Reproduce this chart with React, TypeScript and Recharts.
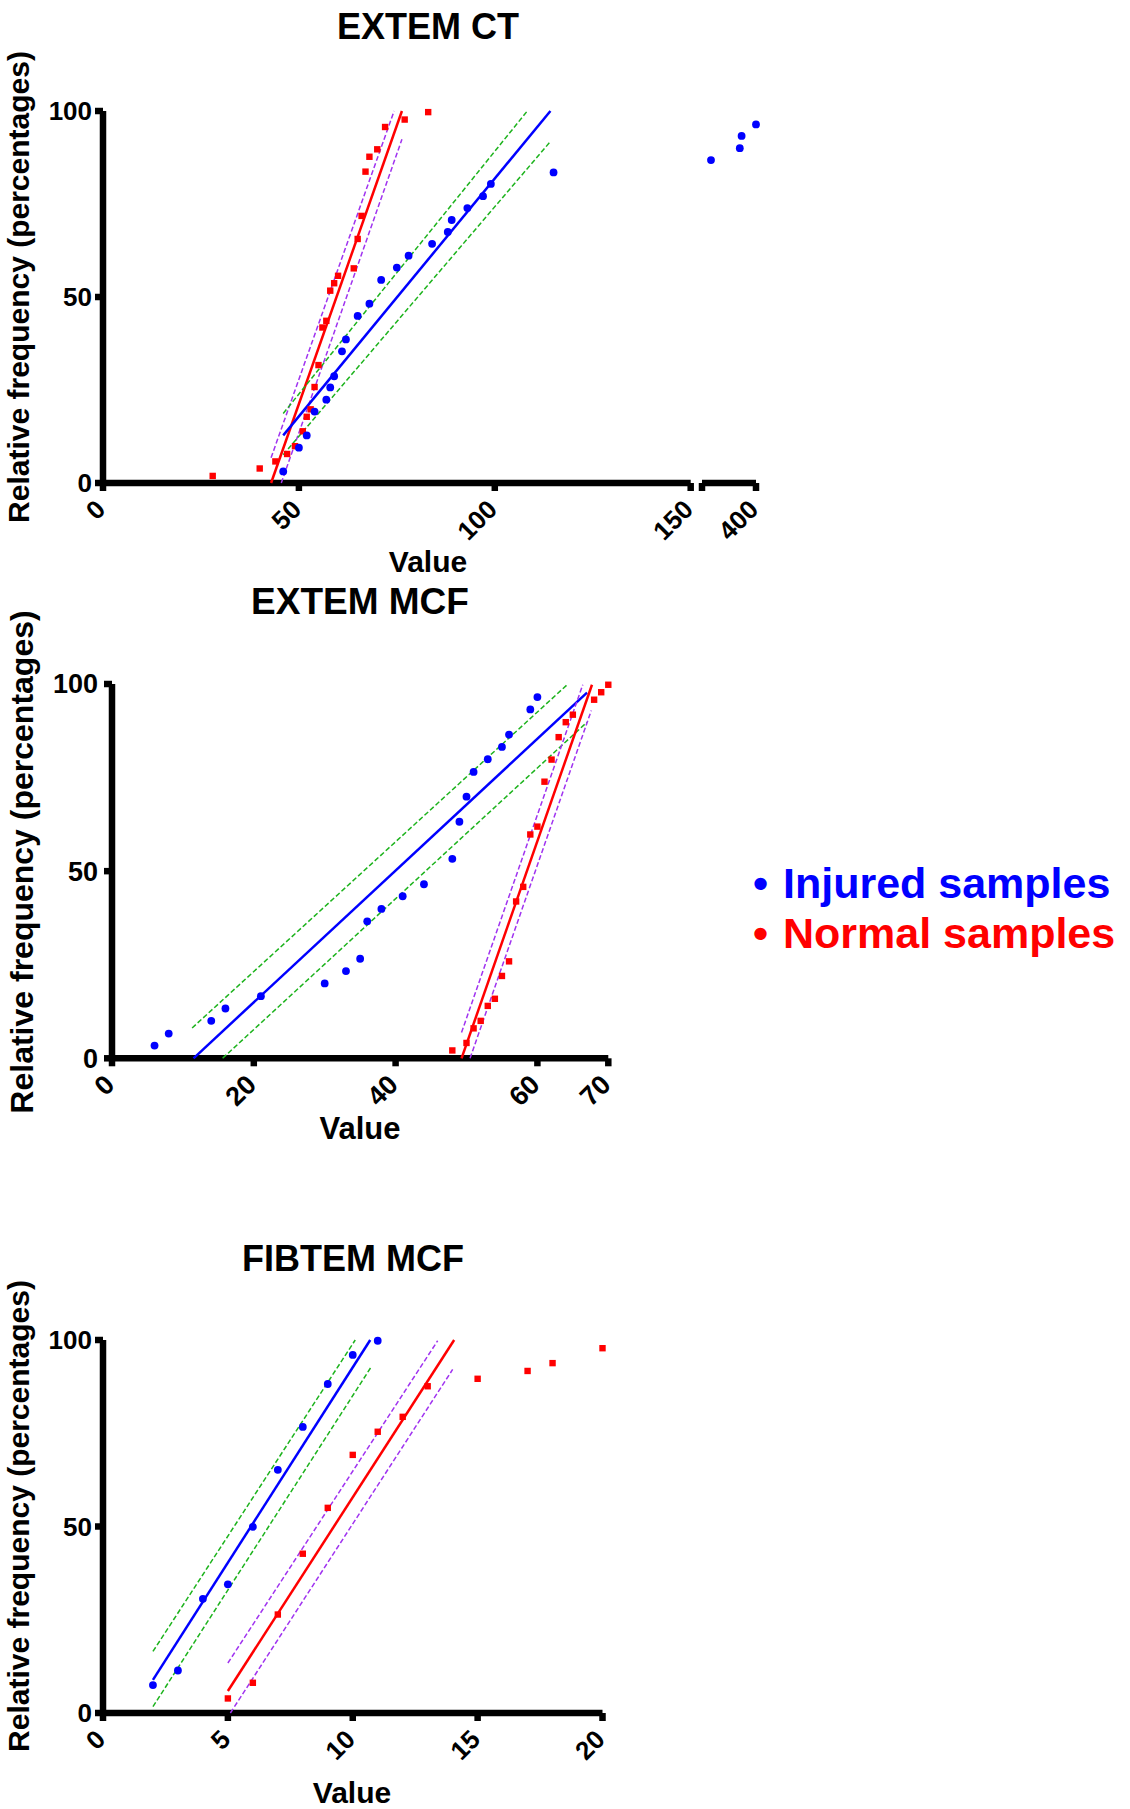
import React from 'react'
import { ScatterChart, Scatter, XAxis, YAxis } from 'recharts'

const FONT = '"Liberation Sans", Arial, Helvetica, sans-serif'
const BLUE = '#0000ff'
const RED = '#ff0000'
const GREEN = '#1db31d'
const PURPLE = '#a033f0'

// EXTEM CT
const ctInjuredX = [46, 50, 52, 54, 57, 58, 59, 61, 62, 65, 68, 71, 75, 78, 84, 88, 89, 93, 97, 99, 115]
const ctInjuredY = [3.1, 9.5, 12.8, 19.2, 22.4, 25.7, 28.7, 35.4, 38.6, 44.9, 48.2, 54.6, 57.9, 61.1, 64.3, 67.5, 70.7, 73.9, 77.1, 80.4, 83.5]
// points right of the axis break
const ctInjuredHighX = [375, 391, 392, 400]
const ctInjuredHighY = [86.8, 90.0, 93.3, 96.4]
const ctNormalX = [28, 40, 44, 47, 49, 51, 52, 53, 54, 55, 56, 57, 58, 59, 60, 64, 65, 66, 67, 68, 70, 72, 77, 83]
const ctNormalY = [1.9, 3.9, 5.8, 7.8, 9.9, 13.9, 17.8, 19.8, 25.8, 31.7, 41.8, 43.6, 51.7, 53.7, 55.7, 57.7, 65.6, 71.8, 83.7, 87.7, 89.7, 95.7, 97.7, 99.7]
const ctInjuredFit = [[46, 12.8], [114.2, 100]]
const ctInjuredBandHi = [[46, 18.7], [108.3, 100]]
const ctInjuredBandLo = [[46, 7.6], [114.2, 91.8]]
const ctNormalFit = [[42.9, 0], [76.3, 100]]
const ctNormalBandHi = [[42.9, 6.8], [74.3, 100]]
const ctNormalBandLo = [[45.5, 0], [76.3, 92.4]]

// EXTEM MCF
const mcfInjuredX = [6, 8, 14, 16, 21, 30, 33, 35, 36, 38, 41, 44, 48, 49, 50, 51, 53, 55, 56, 59, 60]
const mcfInjuredY = [3.4, 6.6, 10.0, 13.3, 16.6, 20.0, 23.3, 26.6, 36.6, 39.9, 43.3, 46.5, 53.3, 63.2, 69.9, 76.5, 79.9, 83.2, 86.5, 93.2, 96.5]
const mcfNormalX = [48, 50, 51, 52, 53, 54, 55, 56, 57, 58, 59, 60, 61, 62, 63, 64, 65, 68, 69, 70]
const mcfNormalY = [2.1, 4.1, 8.0, 10.0, 14.0, 15.9, 22.0, 25.9, 41.9, 45.8, 59.8, 61.9, 73.9, 79.8, 85.8, 89.8, 91.8, 95.8, 97.8, 99.8]
const mcfInjuredFit = [[11.5, 0], [67.0, 97.7]]
const mcfInjuredBandHi = [[11.3, 8.1], [64.2, 99.8]]
const mcfInjuredBandLo = [[15.6, 0], [67.0, 89.8]]
const mcfNormalFit = [[49.3, 0], [67.7, 99.8]]
const mcfNormalBandHi = [[49.3, 6.9], [66.4, 99.8]]
const mcfNormalBandLo = [[50.5, 0], [67.6, 92.9]]

// FIBTEM MCF
const fibInjuredX = [2, 3, 4, 5, 6, 7, 8, 9, 10, 11]
const fibInjuredY = [7.5, 11.4, 30.6, 34.5, 49.9, 65.2, 76.7, 88.2, 96.0, 99.8]
const fibNormalX = [5, 6, 7, 8, 9, 10, 11, 12, 13, 15, 17, 18, 20]
const fibNormalY = [3.9, 8.1, 26.4, 42.7, 55.0, 69.2, 75.4, 79.4, 87.6, 89.6, 91.7, 93.8, 97.8]
const fibInjuredFit = [[2, 8.9], [10.7, 100]]
const fibInjuredBandHi = [[2, 16.5], [10.1, 100]]
const fibInjuredBandLo = [[2, 1.7], [10.74, 92.8]]
const fibNormalFit = [[5, 5.9], [14.06, 100]]
const fibNormalBandHi = [[5, 13.4], [13.4, 99.8]]
const fibNormalBandLo = [[5.1, 0], [14.0, 92.1]]

const yTicks = [0, 50, 100]
const legendLabels = ['Injured samples', 'Normal samples']
const legendColors = [BLUE, RED]

const pts = (xs: number[], ys: number[]) => xs.map((x, i) => ({ x, y: ys[i] }))
const seg = (p: number[][]) => p.map(([x, y]) => ({ x, y }))

const axisStyle = { stroke: '#000', strokeWidth: 6.5 }

const BlueDot = (p: any) => <circle cx={p.cx} cy={p.cy} r={3.9} fill={BLUE} />
const RedSquare = (p: any) => <rect x={p.cx - 3.2} y={p.cy - 3.2} width={6.4} height={6.4} fill={RED} />
const NoDot = () => <g />

const xTick = (fs: number, only?: number[]) => (props: any) => {
  const { x, y, payload } = props
  if (only && !only.includes(payload.value)) return <g />
  return (
    <text
      transform={`translate(${x + 4},${y + 18}) rotate(-45)`}
      textAnchor="end"
      fontSize={fs}
      fontWeight={700}
      fontFamily={FONT}
      fill="#000"
    >
      {payload.value}
    </text>
  )
}

const yTick = (fs: number) => (props: any) => {
  const { x, y, payload } = props
  return (
    <text x={x} y={y} dy="0.35em" textAnchor="end" fontSize={fs} fontWeight={700} fontFamily={FONT} fill="#000">
      {payload.value}
    </text>
  )
}

function FitLines({ fit, hi, lo, color, band }: { fit: number[][]; hi: number[][]; lo: number[][]; color: string; band: string }) {
  return (
    <>
      <Scatter data={seg(hi)} fill={band} line={{ strokeWidth: 1.5, strokeDasharray: '5 2.5' }} shape={NoDot} isAnimationActive={false} legendType="none" />
      <Scatter data={seg(lo)} fill={band} line={{ strokeWidth: 1.5, strokeDasharray: '5 2.5' }} shape={NoDot} isAnimationActive={false} legendType="none" />
      <Scatter data={seg(fit)} fill={color} line={{ strokeWidth: 2.5 }} shape={NoDot} isAnimationActive={false} legendType="none" />
    </>
  )
}

interface PanelProps {
  plotLeft: number
  plotRight: number
  plotTop: number
  plotBottom: number
  xDomain: [number, number]
  xTicks: number[]
  xLabels?: number[]
  hideY?: boolean
  fs: number
  yMargin?: number
  children: React.ReactNode
}

function Panel(p: PanelProps) {
  const top = p.plotTop - 100
  const height = p.plotBottom - p.plotTop + 200
  const left = p.hideY ? p.plotLeft - 5 : 0
  const width = p.plotRight + 10 - left
  return (
    <div style={{ position: 'absolute', left, top }}>
      <ScatterChart width={width} height={height} margin={{ top: 100, right: 10, bottom: 0, left: p.hideY ? 5 : 0 }}>
        <XAxis
          type="number"
          dataKey="x"
          domain={p.xDomain}
          ticks={p.xTicks}
          interval={0}
          height={100}
          axisLine={axisStyle}
          tickLine={axisStyle}
          tickSize={8}
          tick={xTick(p.fs, p.xLabels)}
        />
        <YAxis
          type="number"
          dataKey="y"
          domain={[0, 100]}
          ticks={yTicks}
          interval={0}
          width={p.plotLeft}
          hide={p.hideY}
          axisLine={axisStyle}
          tickLine={axisStyle}
          tickSize={8}
          tickMargin={p.yMargin ?? 3}
          tick={yTick(p.fs)}
        />
        {p.children}
      </ScatterChart>
    </div>
  )
}

function Text({ x, y, size, rotate = 0, children }: { x: number; y: number; size: number; rotate?: number; children: React.ReactNode }) {
  return (
    <div
      style={{
        position: 'absolute',
        left: x,
        top: y,
        transform: `translate(-50%,-50%) rotate(${rotate}deg)`,
        fontFamily: FONT,
        fontWeight: 700,
        fontSize: size,
        lineHeight: 1,
        whiteSpace: 'nowrap',
        color: '#000',
      }}
    >
      {children}
    </div>
  )
}

const yLabel = 'Relative frequency (percentages)'

export default function App() {
  return (
    <div style={{ position: 'absolute', left: 0, top: 0, width: 1130, height: 1809, background: '#fff', overflow: 'hidden' }}>
      {/* EXTEM CT, left of the break */}
      <Panel plotLeft={103} plotRight={690.7} plotTop={110.5} plotBottom={482.5} xDomain={[0, 150]} xTicks={[0, 50, 100, 150]} fs={26}>
        <FitLines fit={ctNormalFit} hi={ctNormalBandHi} lo={ctNormalBandLo} color={RED} band={PURPLE} />
        <FitLines fit={ctInjuredFit} hi={ctInjuredBandHi} lo={ctInjuredBandLo} color={BLUE} band={GREEN} />
        <Scatter data={pts(ctNormalX, ctNormalY)} shape={RedSquare} isAnimationActive={false} />
        <Scatter data={pts(ctInjuredX, ctInjuredY)} shape={BlueDot} isAnimationActive={false} />
      </Panel>
      {/* EXTEM CT, right of the break */}
      <Panel plotLeft={702} plotRight={756} plotTop={110.5} plotBottom={482.5} xDomain={[370, 400]} xTicks={[370, 400]} xLabels={[400]} hideY fs={26}>
        <Scatter data={pts(ctInjuredHighX, ctInjuredHighY)} shape={BlueDot} isAnimationActive={false} />
      </Panel>
      <Text x={428} y={27} size={36}>EXTEM CT</Text>
      <Text x={428} y={562} size={30}>Value</Text>
      <Text x={19} y={287} size={30} rotate={-90}>{yLabel}</Text>

      {/* EXTEM MCF */}
      <Panel plotLeft={112} plotRight={608.3} plotTop={684} plotBottom={1058.3} xDomain={[0, 70]} xTicks={[0, 20, 40, 60, 70]} fs={27} yMargin={6}>
        <FitLines fit={mcfInjuredFit} hi={mcfInjuredBandHi} lo={mcfInjuredBandLo} color={BLUE} band={GREEN} />
        <FitLines fit={mcfNormalFit} hi={mcfNormalBandHi} lo={mcfNormalBandLo} color={RED} band={PURPLE} />
        <Scatter data={pts(mcfNormalX, mcfNormalY)} shape={RedSquare} isAnimationActive={false} />
        <Scatter data={pts(mcfInjuredX, mcfInjuredY)} shape={BlueDot} isAnimationActive={false} />
      </Panel>
      <Text x={360} y={601} size={37}>EXTEM MCF</Text>
      <Text x={360} y={1128} size={31}>Value</Text>
      <Text x={22} y={862} size={32} rotate={-90}>{yLabel}</Text>

      {/* FIBTEM MCF */}
      <Panel plotLeft={103} plotRight={602.5} plotTop={1339.5} plotBottom={1712.5} xDomain={[0, 20]} xTicks={[0, 5, 10, 15, 20]} fs={26}>
        <FitLines fit={fibInjuredFit} hi={fibInjuredBandHi} lo={fibInjuredBandLo} color={BLUE} band={GREEN} />
        <FitLines fit={fibNormalFit} hi={fibNormalBandHi} lo={fibNormalBandLo} color={RED} band={PURPLE} />
        <Scatter data={pts(fibNormalX, fibNormalY)} shape={RedSquare} isAnimationActive={false} />
        <Scatter data={pts(fibInjuredX, fibInjuredY)} shape={BlueDot} isAnimationActive={false} />
      </Panel>
      <Text x={353} y={1259} size={36}>FIBTEM MCF</Text>
      <Text x={352} y={1793} size={30}>Value</Text>
      <Text x={19} y={1516} size={30} rotate={-90}>{yLabel}</Text>

      {/* legend */}
      {legendLabels.map((label, i) => (
        <div key={label} style={{ position: 'absolute', left: 0, top: 883 + i * 50, width: 1130, fontFamily: FONT, fontWeight: 700, fontSize: 43, lineHeight: 1, color: legendColors[i], whiteSpace: 'nowrap' }}>
          <span style={{ position: 'absolute', left: 753, top: 0, transform: 'translateY(-50%)' }}>•</span>
          <span style={{ position: 'absolute', left: 783, top: 0, transform: 'translateY(-50%)' }}>{label}</span>
        </div>
      ))}
    </div>
  )
}
